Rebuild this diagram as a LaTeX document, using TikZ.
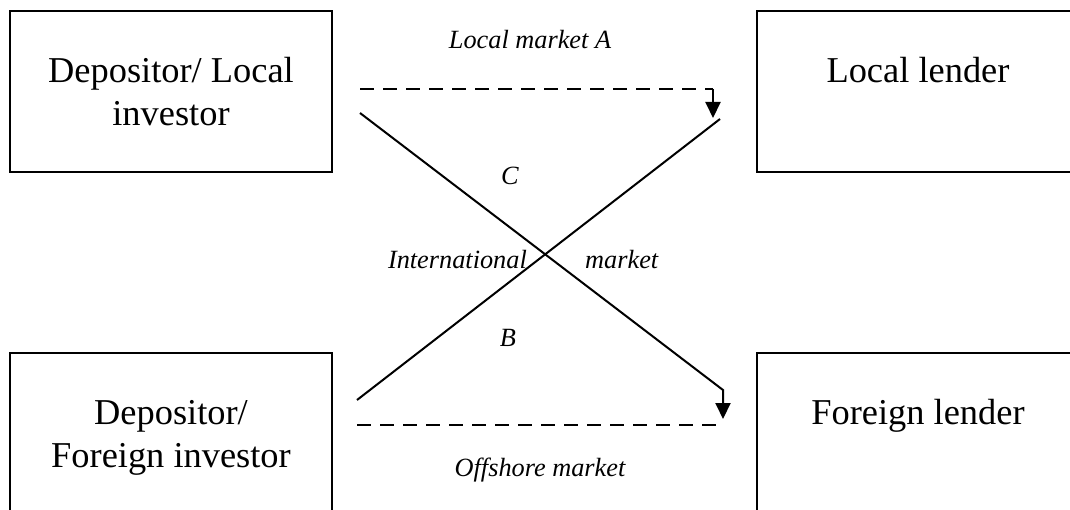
\documentclass[tikz,border=0pt]{standalone}
\usepackage{fontspec}
\setmainfont{Liberation Serif}
\usetikzlibrary{arrows.meta}
\begin{document}
\begin{tikzpicture}[x=1pt,y=-1pt,
  box/.style={draw,line width=1.8pt,minimum width=322pt,minimum height=161pt,inner sep=0pt,align=center,
    font=\fontsize{36.4}{43}\selectfont,text depth=0pt},
  lbl/.style={font=\fontsize{26.3}{30}\selectfont\itshape,inner sep=0pt,anchor=base},
  conn/.style={line width=2pt},
  dline/.style={line width=2pt,dash pattern=on 14pt off 9pt},
  tip/.style={-{Triangle[length=16pt,width=15pt]}}]
\begin{scope}
\clip (0,0) rectangle (1070,510);
\node[box] (dl) at (171,91.5) {Depositor/ Local\\investor};
\node[box] (ll) at (918,91.5) {Local lender\\\mbox{}};
\node[box] (df) at (171,433.5) {Depositor/\\Foreign investor};
\node[box] (fl) at (918,433.5) {Foreign lender\\\mbox{}};

\coordinate (a1) at (360,89);
\coordinate (a2) at (713,89);
\coordinate (a3) at (713,118);
\draw[dline] (a1) -- (a2);
\draw[conn,tip] (a2) -- (a3);

\coordinate (b1) at (360,113);
\coordinate (b2) at (723,390);
\coordinate (b3) at (723,419);
\draw[conn,tip] (b1) -- (b2) -- (b3);

\coordinate (c1) at (357,400);
\coordinate (c2) at (720,119);
\draw[conn] (c1) -- (c2);

\coordinate (d1) at (357,425);
\coordinate (d2) at (723,425);
\draw[dline] (d1) -- (d2);

\node[lbl] (lma) at (530,49) {Local market A};
\node[lbl] (lc) at (510,185) {C};
\node[lbl,anchor=base east] (intl) at (527,269) {International};
\node[lbl,anchor=base west] (mkt) at (585,269) {market};
\node[lbl] (lb) at (508,346) {B};
\node[lbl] (off) at (540,476) {Offshore market};
\end{scope}
\pgfresetboundingbox
\path[use as bounding box] (0,0) rectangle (1070,510);
\end{tikzpicture}
\end{document}
